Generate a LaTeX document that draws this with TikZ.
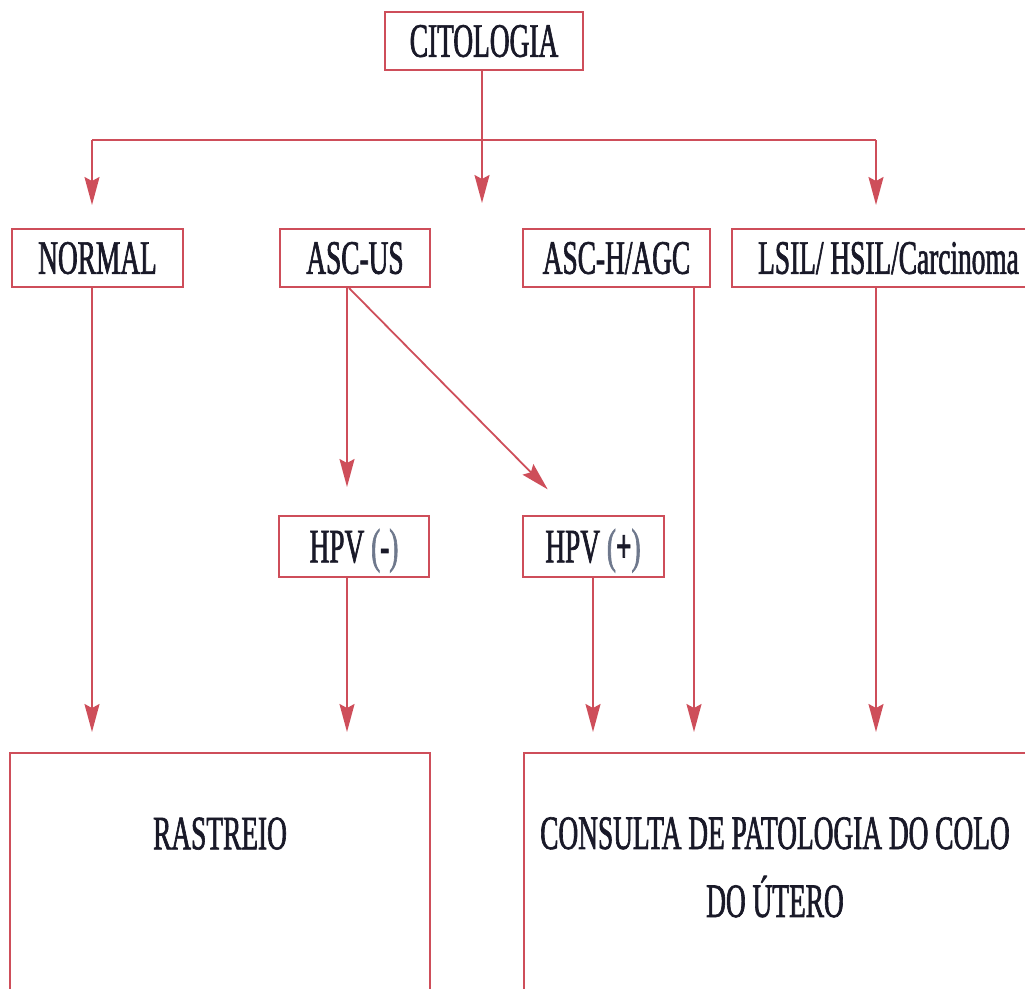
\documentclass[tikz,border=0pt]{standalone}
\usepackage{fontspec}
\setmainfont{Liberation Serif}[FakeStretch=0.57, FakeBold=1.3]
\usetikzlibrary{arrows.meta}
\definecolor{linered}{RGB}{206,78,90}
\definecolor{ink}{RGB}{25,25,40}
\definecolor{parengray}{RGB}{110,120,140}
\begin{document}
\begin{tikzpicture}[x=1pt,y=-1pt,
  lbl/.style={inner sep=0pt, text=ink, font=\fontsize{48}{68}\selectfont,
    text height=31.5pt, text depth=0pt},
  box/.style={lbl, draw=linered, line width=2pt},
  conn/.style={draw=linered, line width=1.8pt},
  arr/.style={conn, -{Stealth[length=28pt,width=15pt,inset=4pt]}},
]
\useasboundingbox (0,0) rectangle (1025,988);
\clip (0,0) rectangle (1025,988);

% boxes
\node[box, minimum width=198pt, minimum height=58pt] (cito) at (484,41) {CITOLOGIA};
\node[box, minimum width=171pt, minimum height=58pt] (normal) at (97.5,258) {NORMAL};
\node[box, minimum width=150pt, minimum height=58pt] (ascus) at (355,258) {ASC-US};
\node[box, minimum width=187pt, minimum height=58pt] (asch) at (616.5,258) {ASC-H/AGC};
\node[box, minimum width=297pt, minimum height=58pt, anchor=west] (lsil) at (731,258) {\hspace*{16pt}LSIL/ HSIL/Carcinoma\hfill};
\node[box, minimum width=150pt, minimum height=61pt] (hpvn) at (354,546.5)
  {HPV {\color{parengray}(}\textbf{-}{\color{parengray})}};
\node[box, minimum width=141pt, minimum height=61pt] (hpvp) at (593,546.5)
  {HPV {\color{parengray}(}\textbf{+}{\color{parengray})}};
\node[box, minimum width=420pt, minimum height=250pt, anchor=north west] (rast) at (9,752) {};
\node[box, minimum width=506pt, minimum height=250pt, anchor=north west] (cons) at (523,752) {};

% texts of the two result boxes
\node[lbl] (rasttxt) at (220,833.5) {RASTREIO};
\node[inner sep=0pt, text=ink, font=\fontsize{48}{68}\selectfont, align=center, anchor=north]
  (constxt) at (775,817) {CONSULTA DE PATOLOGIA DO COLO\\DO ÚTERO};

% distribution bar under CITOLOGIA
\coordinate (junc) at (482,140);
\coordinate (midtip) at (482,203);
\coordinate (hl) at (92,140);
\coordinate (hr) at (876,140);
\draw[arr] (cito.south -| junc) -- (midtip);
\draw[conn] (hl) -- (hr);
\draw[arr, shorten >=23pt] (hl) -- (hl |- normal.north);
\draw[arr, shorten >=23pt] (hr) -- (hr |- lsil.north);

% ASC-US branches
\draw[arr, shorten >=28pt] ([xshift=-8pt]ascus.south) -- ([xshift=-7pt]hpvn.north);
\draw[arr, shorten >=36pt] ([xshift=-6pt]ascus.south) -- ([xshift=51.5pt]hpvp.north west);

% into the result boxes
\draw[arr, shorten >=20pt] (hl |- normal.south) -- (hl |- rast.north);
\draw[arr, shorten >=20pt] ([xshift=-7pt]hpvn.south) -- ([xshift=-7pt]hpvn.south |- rast.north);
\draw[arr, shorten >=20pt] (hpvp.south) -- (hpvp.south |- cons.north);
\draw[arr, shorten >=20pt] ([xshift=77.5pt]asch.south) -- ([xshift=77.5pt]asch.south |- cons.north);
\draw[arr, shorten >=20pt] (hr |- lsil.south) -- (hr |- cons.north);
\end{tikzpicture}
\end{document}
